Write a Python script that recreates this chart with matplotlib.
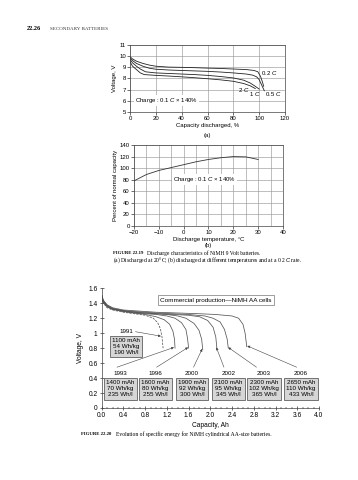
import matplotlib
matplotlib.use("Agg")
import matplotlib.pyplot as plt
from matplotlib.ticker import MultipleLocator

plt.rcParams['font.family'] = ['Liberation Sans', 'DejaVu Sans']
plt.rcParams['mathtext.fontset'] = 'custom'
plt.rcParams['mathtext.rm'] = 'Liberation Sans'
plt.rcParams['mathtext.it'] = 'Liberation Sans:italic'

W, H = 358, 480
SERIF = ['Liberation Serif', 'DejaVu Serif']

# ---------------- data: chart (a) ----------------
a_02_x = [0, 2, 5, 10, 15, 20, 30, 40, 50, 60, 70, 80, 90, 96, 99, 101, 102.5, 103.5]
a_02_y = [9.95, 9.75, 9.55, 9.35, 9.2, 9.1, 9.02, 9.0, 8.97, 8.93, 8.9, 8.85, 8.8, 8.72, 8.6, 8.2, 7.7, 7.3]
a_05_x = [0, 2, 5, 10, 15, 20, 30, 40, 50, 60, 70, 80, 90, 95, 98, 100, 102, 104]
a_05_y = [9.85, 9.6, 9.35, 9.1, 8.92, 8.83, 8.76, 8.72, 8.68, 8.64, 8.58, 8.5, 8.4, 8.3, 8.15, 7.9, 7.4, 6.9]
a_1_x = [0, 2, 5, 8, 12, 20, 30, 40, 50, 60, 70, 80, 88, 93, 97, 100]
a_1_y = [9.7, 9.4, 9.1, 8.85, 8.6, 8.5, 8.45, 8.4, 8.35, 8.28, 8.18, 8.05, 7.85, 7.6, 7.3, 7.05]
a_2_x = [0, 2, 5, 8, 11, 15, 20, 30, 40, 50, 60, 70, 80, 88, 93, 97]
a_2_y = [9.5, 9.1, 8.8, 8.5, 8.35, 8.32, 8.28, 8.22, 8.15, 8.07, 7.98, 7.88, 7.75, 7.55, 7.35, 7.1]
a_labels = ["0.2 $C$", "0.5 $C$", "1 $C$", "2 $C$"]
a_label_pos = [(101.5, 8.45), (104.5, 6.65), (92, 6.65), (83.5, 7.0)]
a_xticks = [0, 20, 40, 60, 80, 100, 120]
a_yticks = [5, 6, 7, 8, 9, 10, 11]

# ---------------- data: chart (b) ----------------
b_temp = [-20, -15, -10, -5, 0, 5, 10, 15, 20, 25, 30]
b_pct = [78, 89, 96, 101, 106, 111, 115, 118, 120, 119.5, 115]
b_xticks = [-20, -10, 0, 10, 20, 30, 40]
b_xticklabels = ["\u221220", "\u221210", "0", "10", "20", "30", "40"]
b_yticks = [0, 20, 40, 60, 80, 100, 120, 140]

# ---------------- data: chart 22.20 ----------------
c_years = ["1991", "1993", "1996", "2000", "2002", "2003", "2006"]
c_x = [
    [0, 0.03, 0.1, 0.2, 0.4, 0.6, 0.8, 0.95, 1.03, 1.08, 1.11, 1.13],
    [0, 0.03, 0.1, 0.2, 0.4, 0.6, 0.8, 1.0, 1.15, 1.25, 1.31, 1.34, 1.35],
    [0, 0.03, 0.1, 0.2, 0.4, 0.6, 0.8, 1.0, 1.2, 1.35, 1.47, 1.55, 1.58, 1.6],
    [0, 0.03, 0.1, 0.2, 0.4, 0.6, 0.8, 1.0, 1.2, 1.4, 1.55, 1.7, 1.79, 1.84, 1.86],
    [0, 0.03, 0.1, 0.2, 0.4, 0.6, 0.8, 1.0, 1.3, 1.6, 1.8, 1.95, 2.05, 2.1, 2.12],
    [0, 0.03, 0.1, 0.2, 0.4, 0.6, 0.8, 1.0, 1.3, 1.6, 1.9, 2.05, 2.18, 2.26, 2.31, 2.33],
    [0, 0.03, 0.1, 0.2, 0.4, 0.6, 0.8, 1.0, 1.4, 1.8, 2.1, 2.4, 2.52, 2.6, 2.64, 2.67],
]
c_y = [
    [1.47, 1.40, 1.34, 1.31, 1.28, 1.26, 1.24, 1.2, 1.14, 1.06, 0.95, 0.8],
    [1.48, 1.41, 1.35, 1.32, 1.29, 1.27, 1.25, 1.22, 1.18, 1.12, 1.03, 0.92, 0.8],
    [1.49, 1.42, 1.36, 1.32, 1.29, 1.27, 1.26, 1.25, 1.23, 1.2, 1.14, 1.05, 0.93, 0.8],
    [1.50, 1.42, 1.36, 1.32, 1.30, 1.28, 1.27, 1.26, 1.25, 1.23, 1.2, 1.13, 1.04, 0.92, 0.78],
    [1.50, 1.43, 1.37, 1.33, 1.30, 1.28, 1.27, 1.26, 1.25, 1.24, 1.22, 1.17, 1.08, 0.95, 0.8],
    [1.51, 1.43, 1.37, 1.33, 1.30, 1.29, 1.28, 1.27, 1.26, 1.25, 1.23, 1.2, 1.15, 1.05, 0.92, 0.8],
    [1.52, 1.44, 1.38, 1.34, 1.31, 1.30, 1.29, 1.28, 1.27, 1.26, 1.25, 1.23, 1.2, 1.12, 1.0, 0.82],
]
c_specs = [
    "1100 mAh\n54 Wh/kg\n190 Wh/l",
    "1400 mAh\n70 Wh/kg\n235 Wh/l",
    "1600 mAh\n80 Wh/kg\n255 Wh/l",
    "1900 mAh\n92 Wh/kg\n300 Wh/l",
    "2100 mAh\n95 Wh/kg\n345 Wh/l",
    "2300 mAh\n102 Wh/kg\n365 Wh/l",
    "2650 mAh\n110 Wh/kg\n433 Wh/l",
]
c_label_x = [0.45, 0.34, 0.99, 1.66, 2.33, 2.99, 3.67]
c_arrow_from = [(0.62, 1.02), (0.28, 0.545), (1.01, 0.545), (1.69, 0.545), (2.25, 0.545), (2.85, 0.545), (3.59, 0.545)]
c_arrow_to = [(1.09, 0.96), (1.33, 0.81), (1.59, 0.81), (1.85, 0.79), (2.11, 0.81), (2.33, 0.81), (2.68, 0.83)]
c_xticks = [0.0, 0.4, 0.8, 1.2, 1.6, 2.0, 2.4, 2.8, 3.2, 3.6, 4.0]
c_yticks = [0, 0.2, 0.4, 0.6, 0.8, 1.0, 1.2, 1.4, 1.6]
c_yticklabels = ["0", "0.2", "0.4", "0.6", "0.8", "1", "1.2", "1.4", "1.6"]


def ax_rect(x0, y0, x1, y1):
    return [x0 / W, 1 - y1 / H, (x1 - x0) / W, (y1 - y0) / H]


fig = plt.figure(figsize=(W / 100, H / 100), dpi=100)

# header
fig.text(27 / W, 1 - 29 / H, "22.26", fontsize=4.6, fontweight='bold', family=SERIF, va='center')
fig.text(50 / W, 1 - 29 / H, "SECONDARY BATTERIES", fontsize=3.6, family=SERIF, va='center', color='#333')

GRID = '#9a9a9a'
TS = 4.3

# ---------------- chart (a) ----------------
axa = fig.add_axes(ax_rect(130, 45, 285, 112))
for xs, ys in [(a_02_x, a_02_y), (a_05_x, a_05_y), (a_1_x, a_1_y), (a_2_x, a_2_y)]:
    axa.plot(xs, ys, color='#222', lw=0.6)
axa.set_xlim(0, 120)
axa.set_ylim(5, 11)
axa.set_xticks(a_xticks)
axa.set_yticks(a_yticks)
axa.grid(True, color=GRID, lw=0.45)
axa.set_axisbelow(True)
axa.tick_params(labelsize=TS, length=2, width=0.4, pad=1)
for s in axa.spines.values():
    s.set_linewidth(0.5)
    s.set_color('#444')
for lab, (x, y) in zip(a_labels, a_label_pos):
    axa.text(x, y, lab, fontsize=TS, ha='left', va='center')
axa.text(4, 6, "Charge : 0.1 $C$ \u00d7 140%", fontsize=TS, ha='left', va='center',
         bbox=dict(facecolor='white', edgecolor='none', pad=0.6))
axa.set_xlabel("Capacity discharged, %", fontsize=TS, labelpad=1.5)
axa.set_ylabel("Voltage, V", fontsize=TS, labelpad=1.5)
fig.text(207 / W, 1 - 136 / H, "(a)", fontsize=TS, ha='center', va='center')

# ---------------- chart (b) ----------------
axb = fig.add_axes(ax_rect(134, 145, 283, 226))
axb.plot(b_temp, b_pct, color='#333', lw=0.6)
axb.set_xlim(-20, 40)
axb.set_ylim(0, 140)
axb.set_xticks(b_xticks)
axb.set_xticklabels(b_xticklabels)
axb.set_yticks(b_yticks)
axb.xaxis.set_minor_locator(MultipleLocator(5))
axb.grid(True, which='major', color=GRID, lw=0.45)
axb.grid(True, which='minor', axis='x', color=GRID, lw=0.45)
axb.set_axisbelow(True)
axb.tick_params(labelsize=TS, length=2, width=0.4, pad=1)
axb.tick_params(which='minor', length=0)
for s in axb.spines.values():
    s.set_linewidth(0.5)
    s.set_color('#444')
axb.text(8.5, 80, "Charge : 0.1 $C$ \u00d7 140%", fontsize=TS, ha='center', va='center',
         bbox=dict(facecolor='white', edgecolor='none', pad=0.6))
axb.set_xlabel("Discharge temperature, \u00b0C", fontsize=TS, labelpad=1.5)
axb.set_ylabel("Percent of normal capacity", fontsize=TS, labelpad=1.5)
fig.text(208 / W, 1 - 246 / H, "(b)", fontsize=TS, ha='center', va='center')

# caption 22.19
fig.text(113 / W, 1 - 253 / H, "FIGURE 22.19", fontsize=3.4, fontweight='bold', family=SERIF, va='center')
fig.text(147 / W, 1 - 253 / H, "Discharge characteristics of NiMH 9 Volt batteries.",
         fontsize=4.0, family=SERIF, va='center')
fig.text(113 / W, 1 - 260 / H,
         "(a) Discharged at 20\u00b0C; (b) discharged at different temperatures and at a 0.2 $C$ rate.",
         fontsize=4.05, family=SERIF, va='center')

# ---------------- chart 22.20 ----------------
axc = fig.add_axes(ax_rect(101.7, 288.3, 319, 408))
for i, (xs, ys) in enumerate(zip(c_x, c_y)):
    axc.plot(xs, ys, color='#555', lw=0.55, ls=(0, (3, 1.5)) if i == 0 else '-')
axc.set_xlim(0, 4.0)
axc.set_ylim(0, 1.6)
axc.set_xticks(c_xticks)
axc.set_xticklabels([f"{v:.1f}" for v in c_xticks])
axc.set_yticks(c_yticks)
axc.set_yticklabels(c_yticklabels)
axc.xaxis.set_minor_locator(MultipleLocator(0.1))
axc.spines['top'].set_visible(False)
axc.spines['right'].set_visible(False)
for s in ('left', 'bottom'):
    axc.spines[s].set_linewidth(0.5)
    axc.spines[s].set_color('#444')
TC = 4.8
axc.tick_params(labelsize=TC, length=3, width=0.4, direction='inout', pad=1.5)
axc.tick_params(which='minor', length=1.5, width=0.35, direction='inout')
axc.set_xlabel("Capacity, Ah", fontsize=TC, labelpad=2)
axc.set_ylabel("Voltage, V", fontsize=TC, labelpad=3)

axc.text(2.1, 1.44, "Commercial production\u2014NiMH AA cells", fontsize=TC - 0.2, ha='center', va='center',
         bbox=dict(facecolor='white', edgecolor='#777', lw=0.5, pad=1.8))

for i in range(len(c_years)):
    fx, fy = c_arrow_from[i]
    tx, ty = c_arrow_to[i]
    axc.annotate("", xy=(tx, ty), xytext=(fx, fy),
                 arrowprops=dict(arrowstyle='-|>', lw=0.4, color='#444', mutation_scale=3.5,
                                 shrinkA=0, shrinkB=0))
    if i == 0:
        axc.text(c_label_x[i], 1.02, c_years[i], fontsize=TC - 0.3, ha='center', va='center')
        axc.text(c_label_x[i], 0.825, c_specs[i], fontsize=TC - 0.3, ha='center', va='center',
                 linespacing=1.25,
                 bbox=dict(facecolor='#d6d6d6', edgecolor='#444', lw=0.5, boxstyle='square,pad=0.35'))
    else:
        axc.text(c_label_x[i], 0.467, c_years[i], fontsize=TC - 0.3, ha='center', va='center')
        axc.text(c_label_x[i], 0.255, c_specs[i], fontsize=TC - 0.3, ha='center', va='center',
                 linespacing=1.25,
                 bbox=dict(facecolor='#d6d6d6', edgecolor='#444', lw=0.5, boxstyle='square,pad=0.35'))

# caption 22.20
fig.text(81 / W, 1 - 434 / H, "FIGURE 22.20", fontsize=3.4, fontweight='bold', family=SERIF, va='center')
fig.text(116 / W, 1 - 434 / H, "Evolution of specific energy for NiMH cylindrical AA-size batteries.",
         fontsize=4.05, family=SERIF, va='center')

fig.savefig("out.png", dpi=100, facecolor='white')
